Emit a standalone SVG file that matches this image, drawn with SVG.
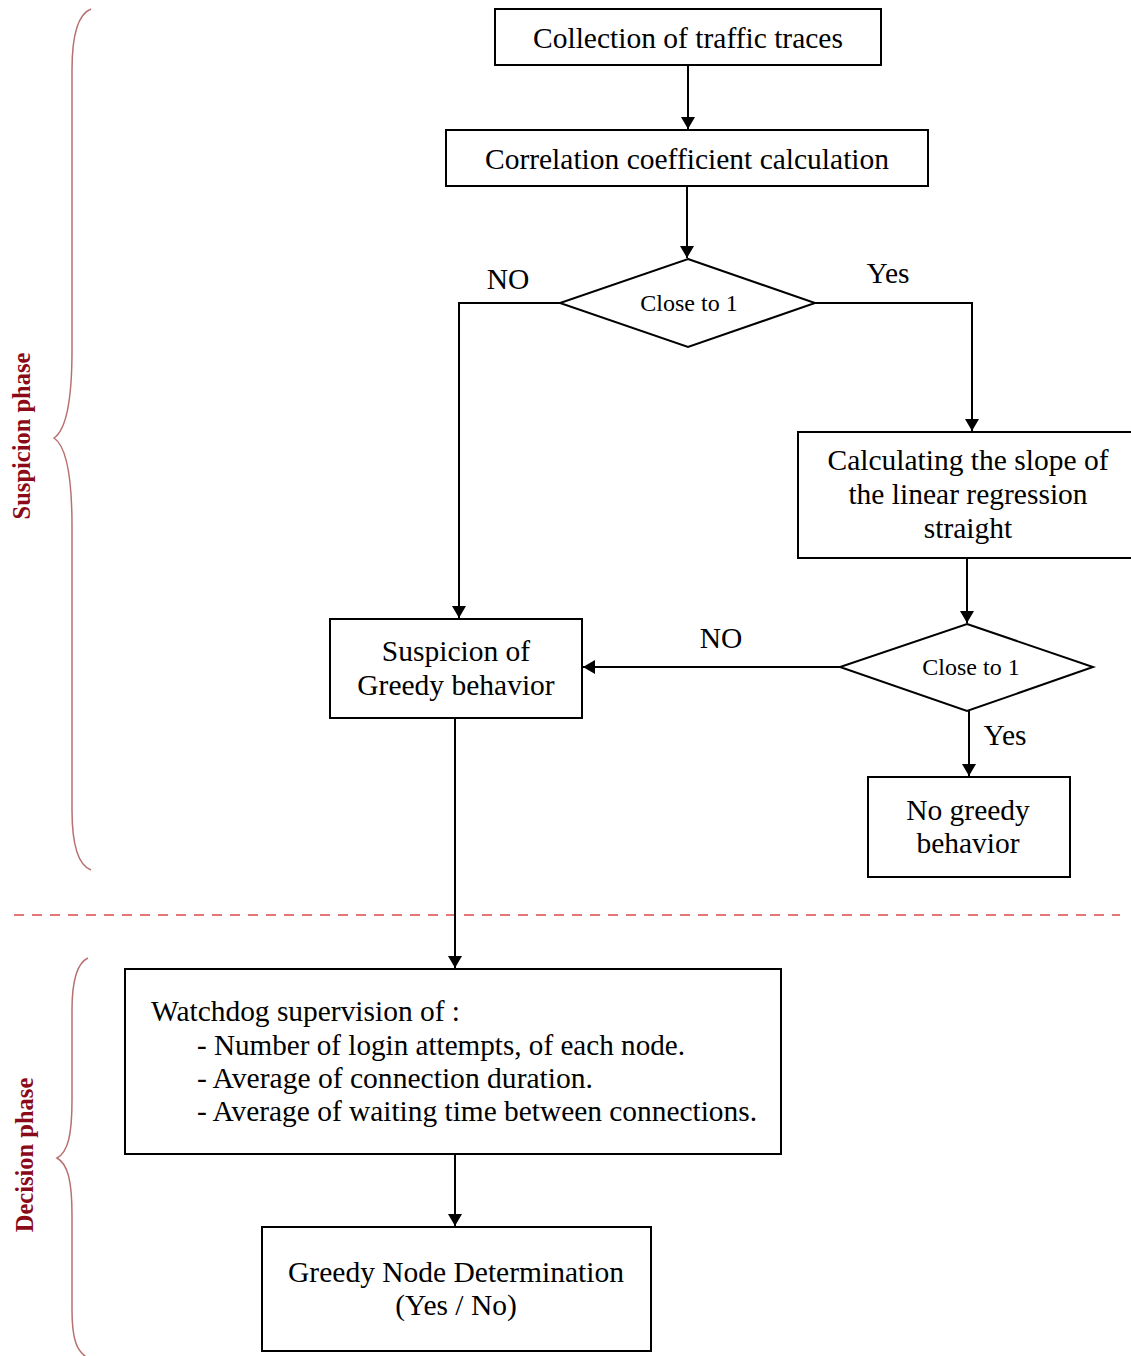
<svg xmlns="http://www.w3.org/2000/svg" width="1131" height="1356" viewBox="0 0 1131 1356">
<defs>
<marker id="arr" viewBox="0 0 12 14" refX="12" refY="7" markerWidth="12" markerHeight="14" markerUnits="userSpaceOnUse" orient="auto">
<path d="M0,0 L12,7 L0,14 Z" fill="#000"/>
</marker>
<style>
.box{fill:#fff;stroke:#000;stroke-width:2}
.t{font-family:"Liberation Serif","Times New Roman",serif;font-size:29.5px;fill:#000;text-anchor:middle}
.tl{font-family:"Liberation Serif","Times New Roman",serif;font-size:29px;fill:#000}
.d{font-family:"Liberation Serif","Times New Roman",serif;font-size:24px;fill:#000;text-anchor:middle}
.c{fill:none;stroke:#000;stroke-width:2}
.brace{fill:none;stroke:#b87070;stroke-width:1.5}
.ph{font-family:"Liberation Serif","Times New Roman",serif;font-size:24.5px;font-weight:bold;fill:#8b0a1a;text-anchor:middle}
</style>
</defs>
<rect width="1131" height="1356" fill="#fff"/>

<g id="braces">
<path class="brace" d="M91,9 C78,14 72,35 72,70 L72,350 C72,400 66,430 54,438 C66,446 72,476 72,526 L72,810 C72,845 78,865 91,870"/>
<path class="brace" d="M88,958 C77,963 72,980 72,1010 L72,1100 C72,1135 68,1152 57,1158 C68,1164 72,1181 72,1216 L72,1310 C72,1340 77,1352 88,1358"/>
<text class="ph" transform="translate(30,436) rotate(-90)">Suspicion phase</text>
<text class="ph" transform="translate(33,1155) rotate(-90)">Decision phase</text>
</g>

<line id="separator" x1="14" y1="915" x2="1120" y2="915" stroke="#e04848" stroke-width="1.5" stroke-dasharray="10,8"/>

<g id="connectors">
<line class="c" x1="688" y1="65" x2="688" y2="129" marker-end="url(#arr)"/>
<line class="c" x1="687" y1="186" x2="687" y2="258" marker-end="url(#arr)"/>
<polyline class="c" points="560,303 459,303 459,618" marker-end="url(#arr)"/>
<polyline class="c" points="815,303 972,303 972,431" marker-end="url(#arr)"/>
<line class="c" x1="967" y1="558" x2="967" y2="623" marker-end="url(#arr)"/>
<line class="c" x1="840" y1="667" x2="583" y2="667" marker-end="url(#arr)"/>
<line class="c" x1="969" y1="711" x2="969" y2="776" marker-end="url(#arr)"/>
<line class="c" x1="455" y1="718" x2="455" y2="968" marker-end="url(#arr)"/>
<line class="c" x1="455" y1="1154" x2="455" y2="1226" marker-end="url(#arr)"/>
<text class="t" x="508" y="289">NO</text>
<text class="t" x="888" y="283">Yes</text>
<text class="t" x="721" y="648">NO</text>
<text class="t" x="1005" y="745">Yes</text>
</g>

<g id="n1">
<rect class="box" x="495" y="9" width="386" height="56"/>
<text class="t" x="688" y="48">Collection of traffic traces</text>
</g>
<g id="n2">
<rect class="box" x="446" y="130" width="482" height="56"/>
<text class="t" x="687" y="169">Correlation coefficient calculation</text>
</g>
<g id="d1">
<polygon class="box" points="688,259 815,303 688,347 560,303"/>
<text class="d" x="689" y="311">Close to 1</text>
</g>
<g id="n3">
<rect class="box" x="798" y="432" width="340" height="126"/>
<text class="t" x="968" y="470">Calculating the slope of</text>
<text class="t" x="968" y="504">the linear regression</text>
<text class="t" x="968" y="538">straight</text>
</g>
<g id="d2">
<polygon class="box" points="967,624 1093,667 967,711 840,667"/>
<text class="d" x="971" y="675">Close to 1</text>
</g>
<g id="n4">
<rect class="box" x="330" y="619" width="252" height="99"/>
<text class="t" x="456" y="661">Suspicion of</text>
<text class="t" x="456" y="695">Greedy behavior</text>
</g>
<g id="n5">
<rect class="box" x="868" y="777" width="202" height="100"/>
<text class="t" x="968" y="820">No greedy</text>
<text class="t" x="968" y="853">behavior</text>
</g>
<g id="n6">
<rect class="box" x="125" y="969" width="656" height="185"/>
<text class="tl" x="151" y="1021" textLength="309" lengthAdjust="spacingAndGlyphs">Watchdog supervision of :</text>
<text class="tl" x="197" y="1055" textLength="488" lengthAdjust="spacingAndGlyphs">- Number of login attempts, of each node.</text>
<text class="tl" x="197" y="1088" textLength="396" lengthAdjust="spacingAndGlyphs">- Average of connection duration.</text>
<text class="tl" x="197" y="1121" textLength="560" lengthAdjust="spacingAndGlyphs">- Average of waiting time between connections.</text>
</g>
<g id="n7">
<rect class="box" x="262" y="1227" width="389" height="124"/>
<text class="t" x="456" y="1282">Greedy Node Determination</text>
<text class="t" x="456" y="1315">(Yes / No)</text>
</g>
</svg>
